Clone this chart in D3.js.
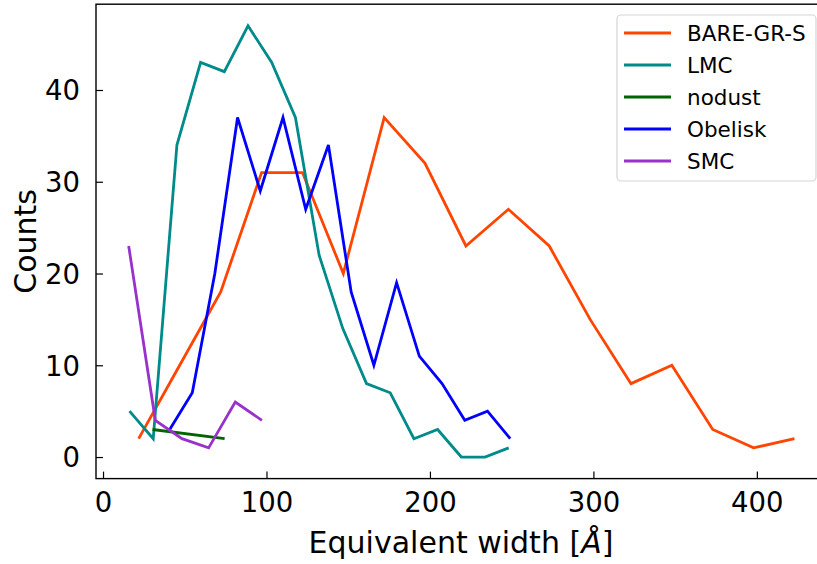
<!DOCTYPE html>
<html>
<head>
<meta charset="utf-8">
<script src="https://cdn.jsdelivr.net/npm/d3@7"></script>
<style>
  body { margin: 0; background: #fff; }
  svg { display: block; font-family: "DejaVu Sans", sans-serif; }
</style>
</head>
<body>
<svg id="chart" width="817" height="564"></svg>
<script>
// ---- data ----
const seriesNames = ["BARE-GR-S", "LMC", "nodust", "Obelisk", "SMC"];
const seriesColors = ["#ff4500", "#008b8b", "#006400", "#0000ff", "#9932cc"];

const bareX = [21.8, 46.9, 72, 97, 122, 147, 172, 197, 222, 248, 273, 298, 323, 348, 373, 398, 423];
const bareY = [2, 10, 18, 31, 31, 20, 37, 32, 23, 27, 23, 15, 8, 10, 3, 1, 2];

const lmcX = [16.2, 30.7, 45.2, 59.7, 74.2, 88.7, 103.2, 117.7, 132.2, 146.7, 161.2, 175.7, 190.2, 204.7, 219.2, 233.7, 248.2];
const lmcY = [5, 2, 34, 43, 42, 47, 43, 37, 22, 14, 8, 7, 2, 3, 0, 0, 1];

const nodustX = [30.3, 74.4];
const nodustY = [3, 2];

const obeliskX = [40.8, 54.6, 68.4, 82.3, 96.2, 110.1, 124.0, 137.9, 151.8, 165.7, 179.6, 193.5, 207.4, 221.3, 235.2, 249.1];
const obeliskY = [3, 7, 20, 37, 29, 37, 27, 34, 18, 10, 19, 11, 8, 4, 5, 2];

const smcX = [15.7, 32.0, 48.3, 64.6, 80.9, 97.2];
const smcY = [23, 4, 2, 1, 6, 4];

const xTicks = [0, 100, 200, 300, 400];
const yTicks = [0, 10, 20, 30, 40];
const xLabel = "Equivalent width [";
const xLabelUnit = "Å";
const yLabel = "Counts";

// ---- layout ----
const svg = d3.select("#chart");
const pLeft = 96, pRight = 826, pTop = 4.2, pBottom = 478.6;

const x = d3.scaleLinear().domain([-4.3, 442.3]).range([pLeft, pRight]);
const y = d3.scaleLinear().domain([-2.35, 49.35]).range([pBottom, pTop]);

const allSeries = [
  { name: seriesNames[0], color: seriesColors[0], xs: bareX, ys: bareY },
  { name: seriesNames[1], color: seriesColors[1], xs: lmcX, ys: lmcY },
  { name: seriesNames[2], color: seriesColors[2], xs: nodustX, ys: nodustY },
  { name: seriesNames[3], color: seriesColors[3], xs: obeliskX, ys: obeliskY },
  { name: seriesNames[4], color: seriesColors[4], xs: smcX, ys: smcY }
];

const line = d3.line().x(d => x(d[0])).y(d => y(d[1]));

svg.append("defs").append("clipPath").attr("id", "plotclip")
  .append("rect").attr("x", pLeft).attr("y", pTop)
  .attr("width", pRight - pLeft).attr("height", pBottom - pTop);

const plot = svg.append("g").attr("clip-path", "url(#plotclip)");
allSeries.forEach(s => {
  plot.append("path")
    .datum(s.xs.map((v, i) => [v, s.ys[i]]))
    .attr("d", line)
    .attr("fill", "none")
    .attr("stroke", s.color)
    .attr("stroke-width", 2.8)
    .attr("stroke-linejoin", "miter")
    .attr("stroke-linecap", "butt");
});

// axes (ticks inward)
const xAxis = d3.axisBottom(x).tickValues(xTicks).tickSizeInner(-7).tickSizeOuter(0).tickPadding(14);
const yAxis = d3.axisLeft(y).tickValues(yTicks).tickSizeInner(-7).tickSizeOuter(0).tickPadding(16);

const gx = svg.append("g").attr("transform", `translate(0,${pBottom})`).call(xAxis);
const gy = svg.append("g").attr("transform", `translate(${pLeft},0)`).call(yAxis);
[gx, gy].forEach(g => {
  g.select(".domain").remove();
  g.selectAll(".tick line").attr("stroke", "#000").attr("stroke-width", 1.2);
  g.selectAll(".tick text").attr("font-size", 27.5).attr("fill", "#000")
    .attr("font-family", "DejaVu Sans, sans-serif");
});
gy.selectAll(".tick text").attr("dy", "0.36em");

// spines
const spine = svg.append("g").attr("stroke", "#000").attr("stroke-width", 1.4).attr("fill", "none");
spine.append("rect").attr("x", pLeft).attr("y", pTop).attr("width", pRight - pLeft).attr("height", pBottom - pTop);

// axis labels
const xl = svg.append("text")
  .attr("x", (pLeft + pRight) / 2).attr("y", 553)
  .attr("text-anchor", "middle").attr("font-size", 30).attr("fill", "#000");
xl.append("tspan").text(xLabel);
xl.append("tspan").attr("font-style", "italic").text(xLabelUnit);
xl.append("tspan").text("]");

svg.append("text")
  .attr("transform", `translate(36,${(pTop + pBottom) / 2}) rotate(-90)`)
  .attr("text-anchor", "middle").attr("font-size", 30).attr("fill", "#000")
  .text(yLabel);

// legend
const lg = svg.append("g");
lg.append("rect").attr("x", 617).attr("y", 15).attr("width", 199).attr("height", 166)
  .attr("rx", 4).attr("fill", "#fff").attr("fill-opacity", 0.8)
  .attr("stroke", "#d5d5d5").attr("stroke-width", 1.2);
allSeries.forEach((s, i) => {
  const yy = 33 + i * 32;
  lg.append("line").attr("x1", 624).attr("x2", 671).attr("y1", yy).attr("y2", yy)
    .attr("stroke", s.color).attr("stroke-width", 2.8);
  lg.append("text").attr("x", 687).attr("y", yy).attr("dy", "0.36em")
    .attr("font-size", 21.5).attr("fill", "#000").text(s.name);
});
</script>
</body>
</html>
